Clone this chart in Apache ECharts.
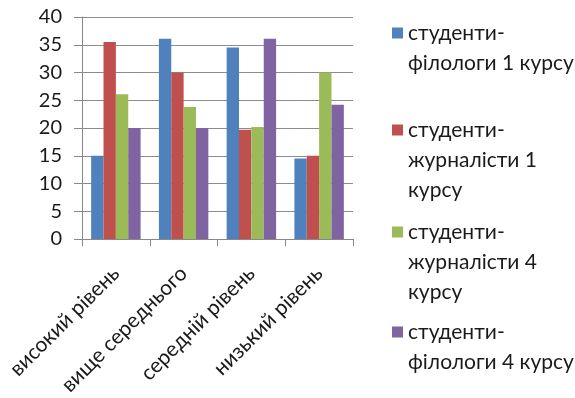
<!DOCTYPE html>
<html>
<head>
<meta charset="utf-8">
<script src="https://cdn.jsdelivr.net/npm/echarts@6/dist/echarts.min.js"></script>
<style>
  html, body { margin: 0; padding: 0; background: #fff; }
  #main { width: 575px; height: 398px; }
</style>
</head>
<body>
<div id="main"></div>
<script>
/* рівні */
var categories = ['високий рівень', 'вище середнього', 'середній рівень', 'низький рівень'];

var seriesNames = [
    'студенти-філологи 1 курсу',
    'студенти-журналісти 1 курсу',
    'студенти-журналісти 4 курсу',
    'студенти-філологи 4 курсу'
];
// how the legend wraps each name
var legendLabels = [
    'студенти-\nфілологи 1 курсу',
    'студенти-\nжурналісти 1\nкурсу',
    'студенти-\nжурналісти 4\nкурсу',
    'студенти-\nфілологи 4 курсу'
];

var fil1 = [15, 36.1, 34.5, 14.5];
var jur1 = [35.5, 30, 19.7, 15];
var jur4 = [26.1, 23.8, 20.2, 30];
var fil4 = [20, 20, 36.1, 24.2];

var yTicks = [0, 5, 10, 15, 20, 25, 30, 35, 40];

var colors = ['#4F81BD', '#C0504D', '#9BBB59', '#8064A2'];
var values = [fil1, jur1, jur4, fil4];

var font = 'Lato';
var lh = 30;
var sq = 11;
// centre of each legend square
var legendCenters = [33, 130, 232, 332];

var legends = [];
for (var i = 0; i < seriesNames.length; i++) {
    var n = legendLabels[i].split('\n').length;
    var h = n * lh;
    var y0 = lh / 2 - sq / 2;
    // square sits on the first line, the rest of the icon box is empty
    var icon = 'path://M0,0h0.01v0.01h-0.01z M0,' + y0 + 'h' + sq + 'v' + sq + 'h-' + sq + 'z M0,' + h + 'h0.01v-0.01h-0.01z';
    legends.push({
        data: [{ name: seriesNames[i], icon: icon }],
        left: 392,
        top: legendCenters[i] - lh / 2,
        padding: 0,
        itemWidth: sq,
        itemHeight: h,
        itemGap: 0,
        selectedMode: false,
        formatter: (function (k) {
            return function () { return legendLabels[k]; };
        })(i),
        textStyle: {
            fontFamily: font,
            fontSize: 21,
            color: '#1a1a1a',
            lineHeight: lh
        }
    });
}

var series = [];
for (var j = 0; j < seriesNames.length; j++) {
    series.push({
        name: seriesNames[j],
        type: 'bar',
        data: values[j],
        barGap: 0,
        barCategoryGap: '27%',
        itemStyle: { color: colors[j] }
    });
}

var option = {
    animation: false,
    color: colors,
    legend: legends,
    grid: {
        left: 82,
        right: 222,
        top: 17,
        bottom: 159
    },
    xAxis: {
        type: 'category',
        data: categories,
        axisLine: { lineStyle: { color: '#888', width: 1 } },
        axisTick: { show: true, length: 7, alignWithLabel: false, lineStyle: { color: '#888' } },
        axisLabel: {
            interval: 0,
            rotate: 45,
            margin: 31,
            fontFamily: font,
            fontSize: 21,
            color: '#1a1a1a'
        }
    },
    yAxis: {
        type: 'value',
        min: yTicks[0],
        max: yTicks[yTicks.length - 1],
        interval: yTicks[1] - yTicks[0],
        axisLine: { show: true, lineStyle: { color: '#888', width: 1 } },
        axisTick: { show: true, length: 8, lineStyle: { color: '#888' } },
        axisLabel: {
            margin: 20,
            fontFamily: font,
            fontSize: 20,
            color: '#1a1a1a'
        },
        splitLine: { show: true, lineStyle: { color: '#8c8c8c', width: 1 } }
    },
    series: series
};

var chart = echarts.init(document.getElementById('main'));
chart.setOption(option);
</script>
</body>
</html>
